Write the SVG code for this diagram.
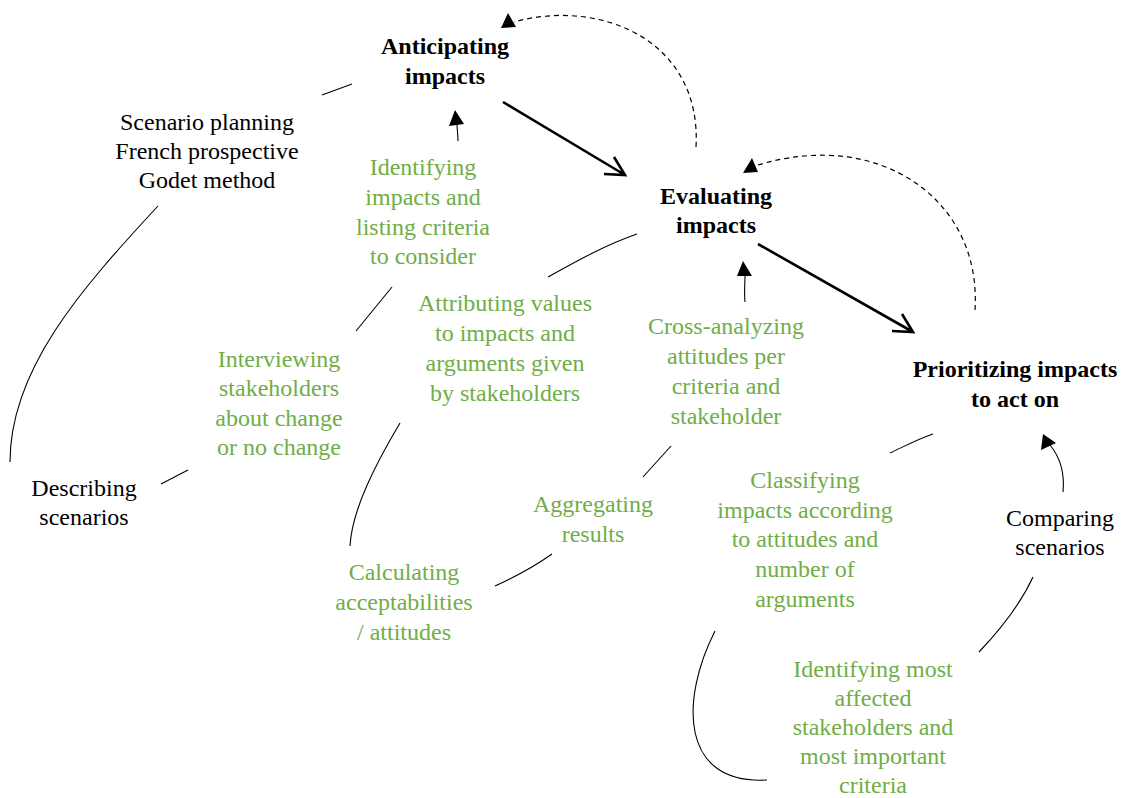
<svg xmlns="http://www.w3.org/2000/svg" width="1124" height="798" viewBox="0 0 1124 798">
<style>
text{font-family:"Liberation Serif","Times New Roman",serif;font-size:24px;text-anchor:middle}
.b{font-weight:bold;fill:#000}
.k{fill:#000}
.g{fill:#70ad47}
.thin{fill:none;stroke:#000;stroke-width:1.1}
.thick{fill:none;stroke:#000;stroke-width:2.6}
.dash{fill:none;stroke:#000;stroke-width:1.2;stroke-dasharray:5 4}
.head{fill:#000;stroke:none}
</style>
<rect width="1124" height="798" fill="#fff"/>
<g id="connectors">
  <path class="thick" d="M503,102 L625,175 M604,174 L625,175 L614,157"/>
  <path class="thick" d="M758,244 L913,332 M892,331 L913,332 L902,314"/>
  <path class="dash" d="M696,147 C702,40 600,-2 514,22"/>
  <polygon class="head" points="508,13 501,28 516,27"/>
  <path class="dash" d="M975,310 C982,200 880,128 758,165"/>
  <polygon class="head" points="752,158 743,173 758,172"/>
  <path class="thin" d="M458,141 C458,134 457,130 457,124"/>
  <polygon class="head" points="455,110 449,126 464,124"/>
  <path class="thin" d="M745,302 C744,292 745,284 745,276"/>
  <polygon class="head" points="743,261 737,276 752,276"/>
  <path class="thin" d="M1063,492 C1065,472 1059,456 1050,445"/>
  <polygon class="head" points="1043,434 1041,450 1056,443"/>
  <path class="thin" d="M322,95 L352,84"/>
  <path class="thin" d="M158,206 C80,290 10,370 10,462"/>
  <path class="thin" d="M161,484 L188,470"/>
  <path class="thin" d="M356,331 L392,287"/>
  <path class="thin" d="M400,423 C375,465 352,510 350,546"/>
  <path class="thin" d="M548,277 C575,262 605,245 637,234"/>
  <path class="thin" d="M643,477 L671,446"/>
  <path class="thin" d="M495,586 C515,577 535,566 552,554"/>
  <path class="thin" d="M890,453 C905,446 918,439 933,434"/>
  <path class="thin" d="M715,631 C680,700 680,785 767,780"/>
  <path class="thin" d="M979,652 C1000,630 1020,605 1033,577"/>
</g>
<g id="anticipating"><text class="b" x="445" y="54">Anticipating</text><text class="b" x="445" y="84">impacts</text></g>
<g id="evaluating"><text class="b" x="716" y="204">Evaluating</text><text class="b" x="716" y="233">impacts</text></g>
<g id="prioritizing"><text class="b" x="1015" y="377">Prioritizing impacts</text><text class="b" x="1015" y="407">to act on</text></g>
<g id="scenario-planning"><text class="k" x="207" y="130">Scenario planning</text><text class="k" x="207" y="159">French prospective</text><text class="k" x="207" y="188">Godet method</text></g>
<g id="describing"><text class="k" x="84" y="496">Describing</text><text class="k" x="84" y="525">scenarios</text></g>
<g id="comparing"><text class="k" x="1060" y="526">Comparing</text><text class="k" x="1060" y="555">scenarios</text></g>
<g id="identifying-impacts"><text class="g" x="423" y="175">Identifying</text><text class="g" x="423" y="205">impacts and</text><text class="g" x="423" y="235">listing criteria</text><text class="g" x="423" y="264">to consider</text></g>
<g id="interviewing"><text class="g" x="279" y="367">Interviewing</text><text class="g" x="279" y="396">stakeholders</text><text class="g" x="279" y="426">about change</text><text class="g" x="279" y="455">or no change</text></g>
<g id="attributing"><text class="g" x="505" y="311">Attributing values</text><text class="g" x="505" y="341">to impacts and</text><text class="g" x="505" y="371">arguments given</text><text class="g" x="505" y="401">by stakeholders</text></g>
<g id="cross-analyzing"><text class="g" x="726" y="334">Cross-analyzing</text><text class="g" x="726" y="364">attitudes per</text><text class="g" x="726" y="394">criteria and</text><text class="g" x="726" y="424">stakeholder</text></g>
<g id="aggregating"><text class="g" x="593" y="512">Aggregating</text><text class="g" x="593" y="542">results</text></g>
<g id="calculating"><text class="g" x="404" y="580">Calculating</text><text class="g" x="404" y="610">acceptabilities</text><text class="g" x="404" y="640">/ attitudes</text></g>
<g id="classifying"><text class="g" x="805" y="488">Classifying</text><text class="g" x="805" y="518">impacts according</text><text class="g" x="805" y="547">to attitudes and</text><text class="g" x="805" y="577">number of</text><text class="g" x="805" y="607">arguments</text></g>
<g id="identifying-most"><text class="g" x="873" y="677">Identifying most</text><text class="g" x="873" y="706">affected</text><text class="g" x="873" y="735">stakeholders and</text><text class="g" x="873" y="764">most important</text><text class="g" x="873" y="793">criteria</text></g>
</svg>
